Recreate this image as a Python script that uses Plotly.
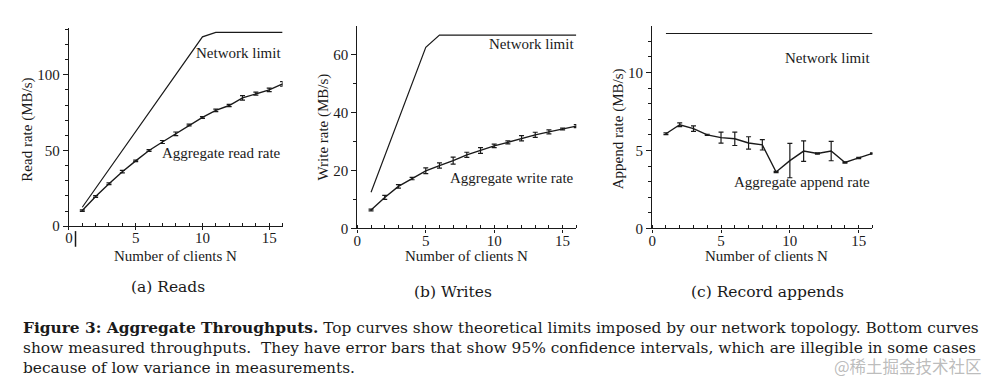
import plotly.graph_objects as go

W, H = 993, 385

clients = list(range(1, 17))

read_limit = [12.5, 25, 37.5, 50, 62.5, 75, 87.5, 100, 112.5, 125, 128, 128, 128, 128, 128, 128]
read_rate = [10.3, 19.6, 28.0, 36.0, 43.1, 50.0, 55.6, 61.0, 66.8, 71.8, 76.5, 79.7, 84.7, 87.5, 90.0, 94.0]
read_err = [0.5, 0.6, 0.6, 0.8, 0.5, 0.6, 1.0, 1.2, 0.6, 0.6, 0.8, 0.8, 1.5, 1.0, 1.2, 1.5]

write_limit = [12.5, 25, 37.5, 50, 62.5, 66.7, 66.7, 66.7, 66.7, 66.7, 66.7, 66.7, 66.7, 66.7, 66.7, 66.7]
write_rate = [6.4, 10.7, 14.5, 17.2, 19.9, 21.7, 23.4, 25.4, 26.9, 28.5, 29.7, 31.1, 32.3, 33.3, 34.3, 35.3]
write_err = [0.3, 0.7, 0.6, 0.4, 1.0, 0.9, 1.2, 0.9, 1.0, 0.6, 0.5, 0.9, 0.9, 0.7, 0.3, 0.5]

append_limit = [12.5] * 16
append_rate = [6.07, 6.65, 6.4, 6.0, 5.82, 5.75, 5.48, 5.36, 3.62, 4.35, 4.96, 4.81, 4.96, 4.23, 4.52, 4.81]
append_err = [0.06, 0.12, 0.18, 0.04, 0.35, 0.43, 0.4, 0.33, 0.04, 1.1, 0.66, 0.04, 0.62, 0.04, 0.04, 0.04]

FONT = "Liberation Serif"
CAPFONT = "DejaVu Serif"
INK = "#1a1a1a"

DX, DY = -2.5, 5.0  # empirical offset correction of the screenshot


def px_x(p):
    return (p + DX) / W


def px_y(p):
    return 1 - (p + DY) / H


panels = [
    dict(x0=67.7, x1=282.2, ytop=24, ybot=226, yr=130.6, ydt=50, ymin=10,
         lim=read_limit, rate=read_rate, err=read_err,
         ytitle="Read rate (MB/s)", tx=26, ty=127, xt=175,
         lab1=("Network limit", 114.5), lab2=("Aggregate read rate", 48.5)),
    dict(x0=357.3, x1=577.1, ytop=21.7, ybot=228.3, yr=69.8, ydt=20, ymin=10,
         lim=write_limit, rate=write_rate, err=write_err,
         ytitle="Write rate (MB/s)", tx=323, ty=125, xt=467,
         lab1=("Network limit", 63.7), lab2=("Aggregate write rate", 17.3)),
    dict(x0=653.3, x1=874.5, ytop=21.7, ybot=228.3, yr=12.97, ydt=5, ymin=1,
         lim=append_limit, rate=append_rate, err=append_err,
         ytitle="Append rate (MB/s)", tx=619, ty=127, xt=768,
         lab1=("Network limit", 10.9), lab2=("Aggregate append rate", 2.97)),
]

fig = go.Figure()
annotations = []
layout_axes = {}

for i, p in enumerate(panels):
    n = i + 1
    xa = "x" if n == 1 else f"x{n}"
    ya = "y" if n == 1 else f"y{n}"
    fig.add_trace(go.Scatter(x=clients, y=p["lim"], mode="lines",
                             line=dict(color=INK, width=1.2),
                             xaxis=xa, yaxis=ya, showlegend=False, hoverinfo="skip"))
    fig.add_trace(go.Scatter(x=clients, y=p["rate"], mode="lines",
                             line=dict(color=INK, width=1.4),
                             error_y=dict(type="data", array=p["err"], visible=True,
                                          color=INK, thickness=1.2, width=2.5),
                             xaxis=xa, yaxis=ya, showlegend=False))
    xkey = "xaxis" if n == 1 else f"xaxis{n}"
    ykey = "yaxis" if n == 1 else f"yaxis{n}"
    layout_axes[xkey] = dict(
        domain=[px_x(p["x0"]), px_x(p["x1"])], anchor=ya, range=[0, 16],
        showgrid=False, zeroline=False, showline=True, linecolor=INK, linewidth=1.2,
        tickmode="array", tickvals=[0, 5, 10, 15], ticks="outside", ticklen=3,
        ticklabelstandoff=-5,
        tickcolor=INK, tickfont=dict(family=FONT, size=15, color=INK),
        minor=dict(dtick=1, tick0=0, ticks="inside", ticklen=3, tickcolor=INK, showgrid=False),
    )
    layout_axes[ykey] = dict(
        domain=[px_y(p["ybot"]), px_y(p["ytop"])], anchor=xa, range=[0, p["yr"]],
        showgrid=False, zeroline=False, showline=True, linecolor=INK, linewidth=1.2,
        dtick=p["ydt"], tick0=0, ticks="outside", ticklen=5, tickcolor=INK,
        tickfont=dict(family=FONT, size=15, color=INK),
        minor=dict(dtick=p["ymin"], tick0=0, ticks="outside", ticklen=3, tickcolor=INK, showgrid=False),
    )
    annotations.append(dict(text=p["ytitle"], xref="paper", yref="paper",
                            x=px_x(p["tx"]), y=px_y(p["ty"]), textangle=-90,
                            showarrow=False, font=dict(family=FONT, size=15, color=INK),
                            xanchor="center", yanchor="middle"))
    annotations.append(dict(text="Number of clients N", xref="paper", yref="paper",
                            x=px_x(p["xt"]), y=px_y(256), showarrow=False,
                            font=dict(family=FONT, size=15, color=INK),
                            xanchor="center", yanchor="middle"))
    for txt, yv in (p["lab1"], p["lab2"]):
        annotations.append(dict(text=txt, xref=xa, yref=ya, x=16, y=yv,
                                showarrow=False, xanchor="right", yanchor="middle",
                                font=dict(family=FONT, size=15, color=INK)))

subcaps = [("(a) Reads", 167, 288), ("(b) Writes", 453, 293), ("(c) Record appends", 769, 293)]
for txt, cx, cy in subcaps:
    annotations.append(dict(text=txt, xref="paper", yref="paper", x=px_x(cx), y=px_y(cy),
                            showarrow=False, xanchor="center", yanchor="middle",
                            font=dict(family=CAPFONT, size=15.5, color=INK)))

caption = [
    "<b>Figure 3: Aggregate Throughputs.</b> Top curves show theoretical limits imposed by our network topology. Bottom curves",
    "show measured throughputs.  They have error bars that show 95% confidence intervals, which are illegible in some cases",
    "because of low variance in measurements.",
]
for k, line in enumerate(caption):
    annotations.append(dict(text=line, xref="paper", yref="paper", x=px_x(20),
                            y=px_y(330 + 20.2 * k), showarrow=False,
                            xanchor="left", yanchor="middle",
                            font=dict(family=CAPFONT, size=15.4, color=INK)))

annotations.append(dict(text="@稀土掘金技术社区", xref="paper", yref="paper",
                        x=px_x(986), y=px_y(369), showarrow=False,
                        xanchor="right", yanchor="middle",
                        font=dict(family="Noto Sans CJK SC", size=16.5, color="rgba(150,150,150,0.65)")))

fig.update_layout(
    width=W, height=H, margin=dict(l=0, r=0, t=0, b=0),
    paper_bgcolor="white", plot_bgcolor="white",
    annotations=annotations,
    shapes=[dict(type="line", xref="paper", yref="paper",
                 x0=px_x(74.3), x1=px_x(74.3), y0=px_y(231), y1=px_y(247),
                 line=dict(color=INK, width=1.5))],
    **layout_axes,
)

fig.write_html("out.html", config={"displayModeBar": False},
               post_script="document.body.style.margin='0';")
